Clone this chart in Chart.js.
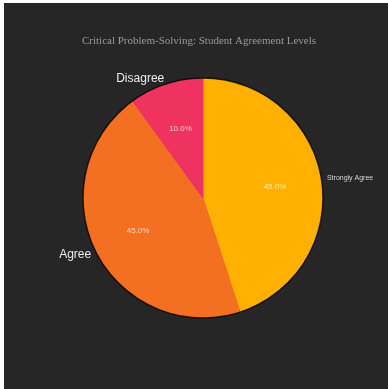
<!DOCTYPE html>
<html>
<head>
<meta charset="utf-8">
<script src="https://cdn.jsdelivr.net/npm/chart.js@4"></script>
<style>
  html, body { margin: 0; padding: 0; background: #ffffff; }
  #wrap { position: absolute; left: 4px; top: 3px; width: 384px; height: 386px; background: #262626; }
  canvas { display: block; }
</style>
</head>
<body>
<div id="wrap"><canvas id="c" width="384" height="386"></canvas></div>
<script>
const chartTitle = 'Critical Problem-Solving: Student Agreement Levels';
const categories = ['Strongly Agree', 'Agree', 'Disagree'];
const shares = [45.0, 45.0, 10.0];
const sliceColors = ['#FFB000', '#F37022', '#EF3360'];
// font size of each outer category label
const outerLabelSizes = [7, 12, 12];

// dark rim around the whole pie
const pieRim = {
  id: 'pieRim',
  afterDatasetsDraw(chart) {
    const arc = chart.getDatasetMeta(0).data[0];
    if (!arc) return;
    const p = arc.getProps(['x', 'y', 'outerRadius'], true);
    const ctx = chart.ctx;
    ctx.save();
    ctx.beginPath();
    ctx.arc(p.x, p.y, p.outerRadius + 0.5, 0, Math.PI * 2);
    ctx.strokeStyle = 'rgba(15,8,4,0.85)';
    ctx.lineWidth = 1.5;
    ctx.stroke();
    ctx.restore();
  }
};

const sliceLabels = {
  id: 'sliceLabels',
  afterDatasetsDraw(chart) {
    const ctx = chart.ctx;
    const meta = chart.getDatasetMeta(0);
    ctx.save();
    meta.data.forEach((arc, i) => {
      const p = arc.getProps(['x', 'y', 'startAngle', 'endAngle', 'outerRadius'], true);
      const mid = (p.startAngle + p.endAngle) / 2;
      const cos = Math.cos(mid), sin = Math.sin(mid);
      // percentage inside the slice
      const rIn = p.outerRadius * 0.61;
      ctx.font = '8px "Liberation Sans", Arial, sans-serif';
      ctx.fillStyle = 'rgba(255,255,255,0.7)';
      ctx.textAlign = 'center';
      ctx.textBaseline = 'middle';
      ctx.fillText(shares[i].toFixed(1) + '%', p.x + cos * rIn, p.y + sin * rIn);
      // category name outside the slice
      const rOut = p.outerRadius * 1.05;
      ctx.font = outerLabelSizes[i] + 'px "Liberation Sans", Arial, sans-serif';
      ctx.fillStyle = i === 0 ? '#d8d8d8' : '#ececec';
      ctx.textAlign = cos >= 0 ? 'left' : 'right';
      ctx.fillText(categories[i], p.x + cos * rOut, p.y + sin * rOut);
    });
    ctx.restore();
  }
};

const titleText = {
  id: 'titleText',
  afterDraw(chart) {
    const ctx = chart.ctx;
    ctx.save();
    ctx.font = '11px "Liberation Serif", "Times New Roman", serif';
    ctx.fillStyle = '#9a9a9a';
    ctx.textAlign = 'center';
    ctx.textBaseline = 'middle';
    ctx.fillText(chartTitle, 195, 38);
    ctx.restore();
  }
};

new Chart(document.getElementById('c'), {
  type: 'pie',
  data: {
    labels: categories,
    datasets: [{
      data: shares,
      backgroundColor: sliceColors,
      borderColor: sliceColors,
      borderWidth: 1
    }]
  },
  options: {
    responsive: false,
    animation: false,
    layout: { padding: { left: 79, right: 65, top: 75, bottom: 71 } },
    plugins: {
      legend: { display: false },
      title: { display: false },
      tooltip: { enabled: false }
    }
  },
  plugins: [pieRim, sliceLabels, titleText]
});
</script>
</body>
</html>
